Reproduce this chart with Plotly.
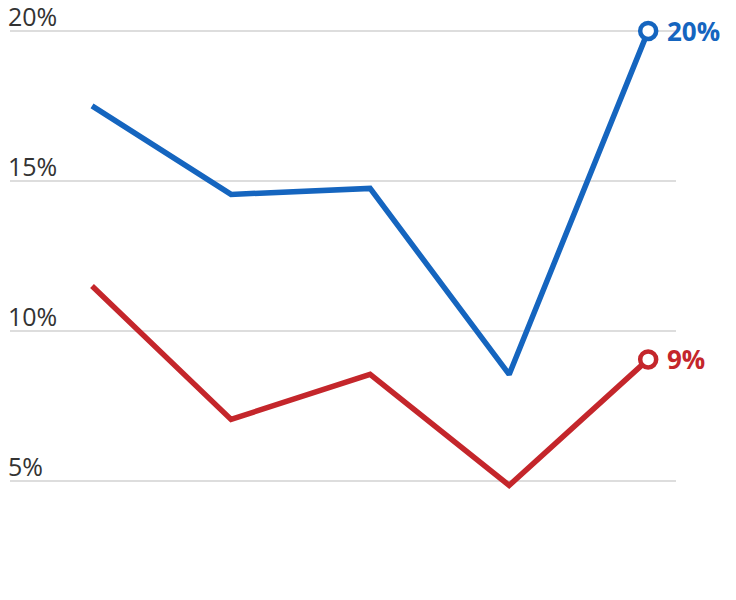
import plotly.graph_objects as go

categories = [0, 1, 2, 3, 4]
blue_values = [17.5, 14.55, 14.75, 8.55, 20.0]
red_values = [11.5, 7.05, 8.55, 4.85, 9.05]
tick_values = [5, 10, 15, 20]
tick_labels = ["5%", "10%", "15%", "20%"]
end_labels = ["20%", "9%"]

BLUE = "#1565bf"
RED = "#c4262b"
FONT = "'Open Sans', Roboto, sans-serif"

fig = go.Figure()
for vals, col in [(blue_values, BLUE), (red_values, RED)]:
    fig.add_trace(go.Scatter(x=categories, y=vals, mode="lines",
                             line=dict(color=col, width=5.5), hoverinfo="skip"))
    fig.add_trace(go.Scatter(x=[categories[-1]], y=[vals[-1]], mode="markers",
                             marker=dict(size=16, color="white", line=dict(color=col, width=4.5)),
                             hoverinfo="skip"))

annotations = []
for v, t in zip(tick_values, tick_labels):
    annotations.append(dict(xref="paper", x=0, y=v, yref="y", text=t, showarrow=False,
                            xanchor="left", yanchor="bottom", yshift=-3, xshift=-3,
                            borderpad=0,
                            font=dict(family=FONT, size=25, color="#333333")))
for vals, col, t in [(blue_values, BLUE, end_labels[0]), (red_values, RED, end_labels[1])]:
    annotations.append(dict(x=categories[-1], y=vals[-1], text="<b>" + t + "</b>", showarrow=False,
                            xanchor="left", yanchor="middle", xshift=17,
                            font=dict(family=FONT, size=26, color=col)))

fig.update_layout(
    width=736, height=600,
    margin=dict(l=10, r=60, t=0, b=0),
    paper_bgcolor="white", plot_bgcolor="white",
    showlegend=False,
    xaxis=dict(range=[-0.59, 4.2], visible=False, fixedrange=True),
    yaxis=dict(range=[1.03, 21.03], tickvals=tick_values, showticklabels=False,
               showgrid=True, gridcolor="#dddddd", gridwidth=2, zeroline=False,
               showline=False, fixedrange=True),
    annotations=annotations,
)
fig.write_html("out.html", config={"displayModeBar": False},
               post_script="document.body.style.margin='0';")
